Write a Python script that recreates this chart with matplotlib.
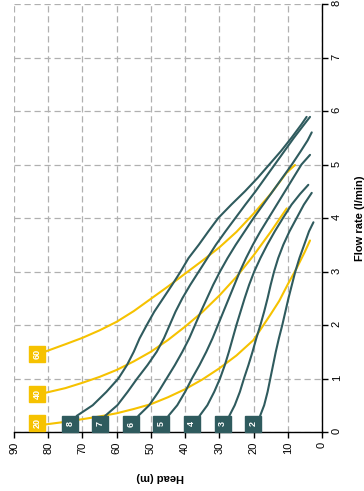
import matplotlib
matplotlib.use("Agg")
import matplotlib.pyplot as plt

### Colours ###
TEAL = '#2f5b5e'
YELLOW = '#f6c200'
GRID = '#b0b0b0'

plt.rcParams['font.family'] = ['Liberation Sans', 'DejaVu Sans']

### Data: (head in m, flow in l/min) ###
# system curves (yellow)
sys_names = ['20', '40', '60']
sys_head = [
    [81, 75, 70, 65, 60, 55, 50, 45, 40, 35, 30, 25, 20, 15, 12.5, 10, 7.5, 5, 3.5],
    [81, 75, 70, 65, 60, 55, 50, 45, 40, 35, 30, 25, 20, 15, 10.3],
    [81, 75, 70, 65, 60, 55, 50, 45, 40, 35, 30, 25, 20, 15, 10.3, 7.9],
]
sys_flow = [
    [0.14, 0.19, 0.24, 0.29, 0.35, 0.43, 0.52, 0.65, 0.80, 0.98, 1.19, 1.43, 1.72, 2.2, 2.45, 2.76, 3.05, 3.37, 3.58],
    [0.73, 0.82, 0.92, 1.03, 1.16, 1.32, 1.50, 1.72, 1.97, 2.24, 2.55, 2.9, 3.3, 3.74, 4.18],
    [1.50, 1.64, 1.76, 1.90, 2.06, 2.26, 2.49, 2.72, 2.96, 3.2, 3.45, 3.74, 4.08, 4.45, 4.85, 4.99],
]
sys_label_head = [83.3, 83.3, 83.3]
sys_label_flow = [0.16, 0.71, 1.46]

# pump curves (teal)
pump_names = ['2', '3', '4', '5', '6', '7', '8']
pump_flow = [
    [0.3, 0.5, 0.75, 1.0, 1.25, 1.5, 1.75, 2.0, 2.25, 2.5, 2.75, 3.0, 3.25, 3.5, 3.75, 3.92],
    [0.3, 0.5, 0.75, 1.0, 1.25, 1.5, 1.75, 2.0, 2.25, 2.5, 2.75, 3.0, 3.25, 3.5, 3.75, 4.0, 4.25, 4.47],
    [0.3, 0.5, 0.75, 1.0, 1.25, 1.5, 1.75, 2.0, 2.25, 2.5, 2.75, 3.0, 3.25, 3.5, 3.75, 4.0, 4.25, 4.45, 4.62],
    [0.3, 0.5, 0.75, 1.0, 1.25, 1.5, 1.75, 2.0, 2.25, 2.5, 2.75, 3.0, 3.25, 3.5, 3.75, 4.0, 4.25, 4.5, 4.75, 5.0, 5.18],
    [0.3, 0.5, 0.75, 1.0, 1.25, 1.5, 1.75, 2.0, 2.25, 2.5, 2.75, 3.0, 3.25, 3.5, 3.75, 4.0, 4.25, 4.5, 4.75, 5.0, 5.25, 5.45, 5.6],
    [0.3, 0.5, 0.75, 1.0, 1.25, 1.5, 1.75, 2.0, 2.25, 2.5, 2.75, 3.0, 3.25, 3.5, 3.75, 4.0, 4.25, 4.5, 4.75, 5.0, 5.25, 5.5, 5.75, 5.89],
    [0.3, 0.5, 0.75, 1.0, 1.25, 1.5, 1.75, 2.0, 2.25, 2.5, 2.75, 3.0, 3.25, 3.5, 3.75, 4.0, 4.25, 4.5, 4.75, 5.0, 5.25, 5.5, 5.75, 5.89],
]
pump_head = [
    [18.1, 16.9, 15.9, 15.1, 14.3, 13.5, 12.6, 11.6, 10.7, 9.8, 8.8, 7.8, 6.6, 5.2, 3.8, 2.5],
    [27.1, 25.5, 24.0, 22.8, 21.5, 20.3, 19.2, 18.0, 16.9, 15.9, 15.0, 14.0, 12.8, 11.3, 9.5, 7.4, 5.3, 3.0],
    [35.8, 33.5, 31.5, 29.8, 28.4, 27.2, 26.1, 25.0, 23.8, 22.6, 21.3, 19.8, 18.0, 16.0, 13.8, 11.4, 8.9, 6.4, 4.0],
    [44.9, 42.3, 40.0, 38.0, 35.8, 33.8, 32.0, 30.4, 28.8, 27.2, 25.6, 24.0, 22.2, 20.2, 18.0, 15.6, 13.2, 10.8, 8.4, 6.0, 3.5],
    [53.7, 50.5, 47.8, 45.4, 43.0, 40.8, 38.8, 37.1, 35.4, 33.6, 31.8, 29.8, 27.6, 25.2, 22.6, 20.0, 17.2, 14.4, 11.6, 8.8, 6.2, 4.2, 3.0],
    [63.4, 59.8, 56.8, 54.0, 51.0, 48.3, 46.2, 44.5, 42.8, 40.8, 38.5, 36.0, 33.5, 31.0, 28.2, 25.3, 22.4, 19.4, 16.6, 13.8, 11.0, 8.2, 5.2, 3.5],
    [71.7, 67.0, 63.0, 59.5, 57.0, 55.0, 53.3, 51.2, 49.0, 46.4, 43.8, 41.3, 39.0, 36.0, 33.2, 30.3, 26.5, 22.5, 18.8, 15.4, 12.0, 8.9, 6.0, 4.5],
]
pump_label_head = [20.2, 29.0, 38.1, 47.1, 55.8, 64.9, 73.6]
pump_label_flow = [0.15, 0.15, 0.15, 0.15, 0.15, 0.15, 0.15]

head_ticks = [0, 10, 20, 30, 40, 50, 60, 70, 80, 90]
flow_ticks = [0, 1, 2, 3, 4, 5, 6, 7, 8]

### Figure ###
fig = plt.figure(figsize=(3.64, 4.91), dpi=100)
ax = fig.add_axes([14 / 364, 1 - 432 / 491, 308 / 364, 428 / 491])

for h, q in zip(sys_head, sys_flow):
    ax.plot(h, q, color=YELLOW, lw=1.5, solid_capstyle='round', solid_joinstyle='round', zorder=3)
for h, q in zip(pump_head, pump_flow):
    ax.plot(h, q, color=TEAL, lw=1.5, solid_capstyle='round', solid_joinstyle='round', zorder=4)

# label boxes
ax.plot(sys_label_head, sys_label_flow, 's', ms=12, color=YELLOW, zorder=5, clip_on=False)
ax.plot(pump_label_head, pump_label_flow, 's', ms=11.5, color=TEAL, zorder=5, clip_on=False)
for name, h, q in zip(sys_names + pump_names, sys_label_head + pump_label_head,
                      sys_label_flow + pump_label_flow):
    ax.text(h, q, name, color='white', fontsize=6.5, fontweight='bold', rotation=90,
            ha='center', va='center', zorder=6)

ax.set_xlim(90, 0)
ax.set_ylim(0, 8)
ax.set_xticks(head_ticks)
ax.set_yticks(flow_ticks)
ax.yaxis.tick_right()
ax.yaxis.set_label_position('right')
ax.grid(True, color=GRID, linestyle=(0, (5, 3)), linewidth=0.9)
ax.set_axisbelow(True)
for s in ['left', 'top']:
    ax.spines[s].set_visible(False)
for s in ['bottom', 'right']:
    ax.spines[s].set_linewidth(1.0)
ax.tick_params(axis='both', direction='out', length=4, width=1, labelsize=8,
               labelrotation=90, pad=3)

ax.set_xlabel('Head (m)', fontsize=8, fontweight='bold', rotation=180)
ax.xaxis.set_label_coords(0.474, -0.093)
ax.set_ylabel('Flow rate (l/min)', fontsize=8, fontweight='bold', rotation=90)
ax.yaxis.set_label_coords(1.107, 0.5)

fig.savefig('out.png', dpi=100)
